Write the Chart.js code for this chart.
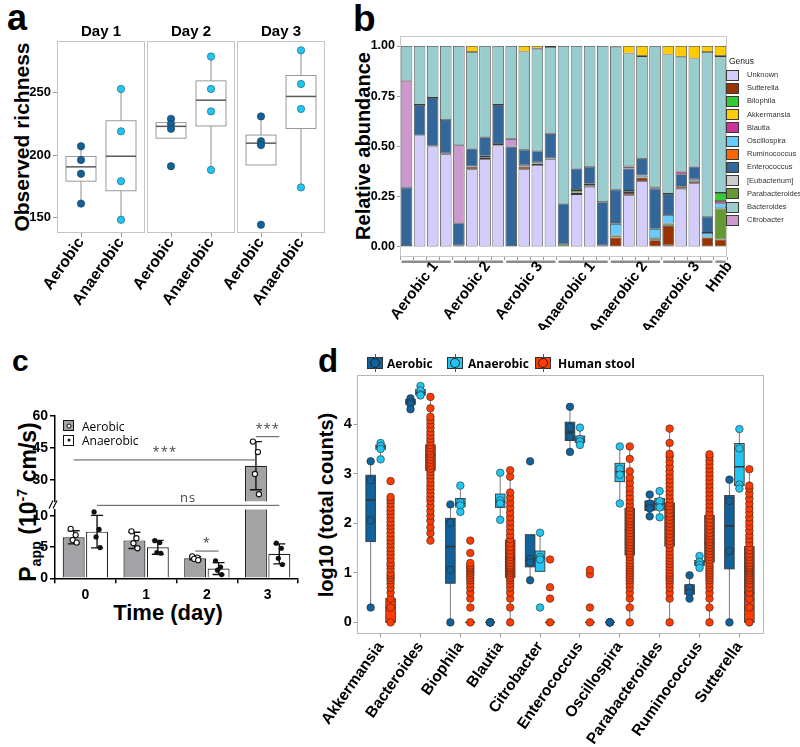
<!DOCTYPE html>
<html>
<head>
<meta charset="utf-8">
<title>Microbiome figure</title>
<script src="https://cdn.jsdelivr.net/npm/chart.js@4.4.1/dist/chart.umd.min.js"></script>
<style>
    body { margin: 0; width: 800px; height: 747px; position: relative; overflow: hidden; background: #fff;
           font-family: "Liberation Sans", Arial, sans-serif; color: #000; }
    canvas { position: absolute; }
    .panel-tag { position: absolute; font-weight: bold; line-height: 1; }
    .axis-title { position: absolute; transform: translate(-50%, -50%) rotate(-90deg); white-space: nowrap; font-weight: bold; line-height: 1; }
    .axis-title sub, .axis-title sup { font-size: 0.62em; line-height: 0; }
    .legend-text { position: absolute; white-space: nowrap; line-height: 1; transform: translateY(-50%); }
    .genus-key { position: absolute; width: 13px; height: 11px; border: 1px solid #3a3a3a; box-sizing: border-box; }
    .c-key { position: absolute; width: 11px; height: 11px; border: 1.3px solid #111; box-sizing: border-box; }
    .c-key i { position: absolute; left: 50%; top: 50%; border-radius: 50%; transform: translate(-50%, -50%); box-sizing: border-box; }
    .d-key { position: absolute; width: 16px; height: 12px; border: 1px solid #333; box-sizing: border-box; }
    .d-key::before { content: ""; position: absolute; left: 6.5px; top: -4px; width: 1px; height: 18px; background: #555; }
    .d-key i { position: absolute; left: 2px; top: 0; width: 10px; height: 10px; border-radius: 50%; border: 1px solid #222; box-sizing: border-box; }
</style>
</head>
<body>
<div class="panel-tag" style="left:7px;top:0;font-size:36px">a</div>
<div class="panel-tag" style="left:353px;top:0;font-size:37px">b</div>
<div class="panel-tag" style="left:12px;top:346px;font-size:30px">c</div>
<div class="panel-tag" style="left:318px;top:344px;font-size:33px">d</div>

<div class="axis-title" style="left:21px;top:137px;font-size:21px">Observed richness</div>
<div class="axis-title" style="left:363px;top:146px;font-size:20px">Relative abundance</div>
<div class="axis-title" style="left:28px;top:502px;font-size:23px">P<sub>app</sub> (10<sup>-7</sup> cm/s)</div>
<div class="axis-title" style="left:326px;top:505px;font-size:20px">log10 (total counts)</div>
<div style="position:absolute;left:168px;top:613px;transform:translate(-50%,-50%);font:bold 22px 'Liberation Sans Narrow','Liberation Sans',sans-serif;white-space:nowrap;line-height:1">Time (day)</div>

<canvas id="chart-a" width="330" height="330" style="left:0;top:0"></canvas>
<canvas id="chart-b" width="470" height="330" style="left:330px;top:0"></canvas>
<canvas id="chart-c-top" width="310" height="102" style="left:0;top:400px"></canvas>
<canvas id="chart-c-bottom" width="310" height="165" style="left:0;top:470px"></canvas>
<canvas id="chart-d" width="500" height="377" style="left:300px;top:370px"></canvas>

<script>
// ---------- panel a: observed richness ----------
const daysA = ["Day 1", "Day 2", "Day 3"];
const conditionsA = ["Aerobic", "Anaerobic"];
const richnessAerobic = [[207, 196, 185, 161], [229, 225, 221, 191], [231, 211, 208, 144]];
const richnessAnaerobic = [[253, 219, 179, 148], [279, 253, 235, 188], [284, 257, 237, 174]];
// lower whisker, q1, median, q3, upper whisker
const richnessBoxAerobic = [[161, 179, 190.5, 198.8, 207], [213.5, 213.5, 223, 226, 229], [192, 192, 209.5, 216, 231]];
const richnessBoxAnaerobic = [[148, 171.3, 199, 227.5, 253], [188, 223.3, 244, 259.5, 279], [174, 221.3, 247, 263.8, 284]];
const richnessTicks = [150, 200, 250];

// ---------- panel b: relative abundance ----------
const sampleGroups = ["Aerobic 1", "Aerobic 2", "Aerobic 3", "Anaerobic 1", "Anaerobic 2", "Anaerobic 3", "Hmb"];
const groupSizes = [4, 4, 4, 4, 4, 4, 1];
const abUnknown = [0.005, 0.555, 0.5, 0.462, 0, 0.387, 0.438, 0.505, 0.005, 0.387, 0.408, 0.437, 0, 0.263, 0.3, 0, 0, 0.257, 0.328, 0, 0.008, 0.29, 0.317, 0, 0];
const abSutterella = [0, 0, 0.004, 0.004, 0, 0.013, 0.008, 0, 0, 0.013, 0.008, 0.003, 0, 0.008, 0.007, 0, 0.047, 0.012, 0.018, 0.033, 0.097, 0.01, 0.01, 0.047, 0.037];
const abParabacteroides = [0, 0, 0, 0, 0.008, 0, 0.008, 0.007, 0, 0.007, 0.005, 0, 0.013, 0.012, 0.007, 0.008, 0.01, 0, 0, 0.01, 0.012, 0, 0, 0, 0.155];
const abOscillospira = [0, 0, 0, 0, 0, 0, 0, 0, 0, 0, 0, 0, 0, 0, 0, 0, 0.058, 0.01, 0.01, 0.047, 0.042, 0, 0.01, 0.023, 0.025];
const abRuminococcus = [0, 0, 0, 0, 0, 0, 0, 0, 0, 0, 0, 0, 0, 0, 0, 0, 0, 0, 0, 0, 0, 0, 0, 0, 0];
const abEnterococcus = [0.29, 0.152, 0.238, 0.166, 0.11, 0.09, 0.092, 0.195, 0.495, 0.077, 0.055, 0.123, 0.203, 0.107, 0.085, 0.215, 0.17, 0.112, 0.082, 0.2, 0.105, 0.062, 0.063, 0.08, 0];
const abBlautia = [0, 0, 0, 0, 0, 0, 0, 0, 0, 0, 0, 0, 0, 0, 0, 0, 0, 0.01, 0, 0.007, 0, 0.013, 0, 0, 0.012];
const abBilophila = [0, 0, 0, 0, 0, 0, 0, 0, 0, 0, 0, 0, 0, 0, 0, 0, 0, 0, 0, 0, 0, 0, 0, 0, 0.04];
const abCitrobacter = [0.533, 0, 0, 0, 0.388, 0, 0, 0, 0.038, 0, 0, 0, 0, 0, 0, 0, 0, 0, 0, 0, 0, 0, 0, 0, 0];
const abEubacterium = [0, 0, 0, 0, 0, 0, 0, 0, 0, 0, 0, 0, 0, 0, 0, 0, 0, 0, 0, 0, 0, 0, 0, 0, 0];
const abBacteroides = [0.172, 0.293, 0.258, 0.368, 0.494, 0.48, 0.454, 0.293, 0.462, 0.489, 0.511, 0.432, 0.784, 0.61, 0.601, 0.777, 0.712, 0.562, 0.512, 0.703, 0.694, 0.572, 0.538, 0.82, 0.681];
const abAkkermansia = [0, 0, 0, 0, 0, 0.03, 0, 0, 0, 0.027, 0.013, 0.005, 0, 0, 0, 0, 0.003, 0.037, 0.05, 0, 0.042, 0.053, 0.062, 0.03, 0.05];
const abundanceTicks = [0, 0.25, 0.5, 0.75, 1];
const legendOrderB = ["Unknown", "Sutterella", "Bilophila", "Akkermansia", "Blautia", "Oscillospira",
    "Ruminococcus", "Enterococcus", "[Eubacterium]", "Parabacteroides", "Bacteroides", "Citrobacter"];

// ---------- panel c: permeability ----------
const daysC = ["0", "1", "2", "3"];
const conditionsC = ["Aerobic", "Anaerobic"];
const pappAerobicMean = [6.55, 6.05, 3.2, 36.7];
const pappAerobicSd = [1.05, 1.3, 0.25, 11.3];
const pappAnaerobicMean = [7.45, 4.95, 1.55, 3.9];
const pappAnaerobicSd = [2.6, 1.1, 0.95, 1.6];
const pappAerobicPts = [[7.9, 6.9, 6.1, 5.7], [7.5, 6.4, 5.6, 4.8], [3.5, 3.3, 3.1, 2.9], [48.0, 43.1, 32.8, 23.3]];
const pappAnaerobicPts = [[10.6, 7.8, 6.6, 4.9], [6.0, 5.7, 4.1, 4.0], [2.8, 1.8, 1.3, 0.6], [5.6, 4.8, 3.2, 2.2]];
const pappTicksLow = [0, 5, 10];
const pappTicksHigh = [30, 45, 60];
// [day, condition] at each end of a bracket
const sigStart = [[0, 0], [3, 0], [0, 1], [2, 0]];
const sigEnd = [[3, 0], [3, 1], [3, 1], [2, 1]];
const sigHeight = [39.4, 50.3, 11.65, 4.35];
const sigLabel = ["***", "***", "ns", "*"];

// ---------- panel d: counts per genus ----------
const genera = ["Akkermansia", "Bacteroides", "Biophila", "Blautia", "Citrobacter", "Enterococcus",
    "Oscillospira", "Parabacteroides", "Ruminococcus", "Sutterella"];
const sourcesD = ["Aerobic", "Anaerobic", "Human stool"];
const countsAerobic = [[3.25, 2.87, 2.06, 0.30], [4.52, 4.44, 4.40, 4.30], [2.38, 2.01, 1.06, 0], [0, 0, 0, 0],
    [3.25, 1.28, 1.21, 0.85], [4.35, 3.94, 3.74, 3.44], [0, 0, 0, 0], [2.58, 2.40, 2.30, 2.14],
    [0.95, 0.70, 0.60, 0.48], [2.88, 2.45, 1.44, 0]];
const countsAnaerobic = [[3.62, 3.56, 3.50, 3.29], [4.77, 4.68, 4.60, 4.58], [2.76, 2.42, 2.36, 2.23], [3.02, 2.46, 2.40, 2.07],
    [1.81, 1.32, 1.27, 0.30], [3.93, 3.70, 3.65, 3.58], [3.55, 3.10, 2.98, 2.40], [2.65, 2.45, 2.32, 2.12],
    [1.34, 1.22, 1.16, 1.10], [3.90, 3.51, 2.78, 2.70]];
const countsStool = [
    [0, 0.30, 0.48, 0.60, 0.70, 0.78, 0.85, 0.90, 0.95, 1.00, 1.08, 1.15, 1.20, 1.28, 1.36, 1.43, 1.50, 1.58, 1.65, 1.72, 1.80, 1.88, 1.95, 2.02, 2.10, 2.18, 2.25, 2.32, 2.40, 2.47, 2.53, 2.85],
    [1.65, 1.80, 1.92, 2.05, 2.15, 2.25, 2.35, 2.45, 2.52, 2.60, 2.68, 2.75, 2.82, 2.90, 2.97, 3.04, 3.10, 3.16, 3.22, 3.28, 3.34, 3.40, 3.46, 3.52, 3.58, 3.64, 3.70, 3.77, 3.84, 3.92, 4.00, 4.08, 4.15, 4.32, 4.55],
    [0, 0.30, 0.48, 0.60, 0.70, 0.78, 0.85, 0.90, 0.95, 1.00, 1.04, 1.08, 1.11, 1.15, 1.20, 1.40, 1.65],
    [0, 0.30, 0.48, 0.60, 0.70, 0.78, 0.85, 0.90, 0.95, 1.00, 1.04, 1.08, 1.11, 1.15, 1.20, 1.26, 1.32, 1.38, 1.45, 1.52, 1.60, 1.68, 1.76, 1.85, 1.94, 2.03, 2.12, 2.22, 2.32, 2.42, 2.52, 2.62, 2.94, 3.07],
    [0, 0.48, 0.71, 1.27],
    [0, 0.30, 0.97, 1.06],
    [0, 0.30, 0.48, 0.60, 0.70, 0.78, 0.85, 0.90, 0.95, 1.00, 1.05, 1.10, 1.15, 1.20, 1.26, 1.32, 1.38, 1.44, 1.50, 1.56, 1.62, 1.68, 1.74, 1.80, 1.86, 1.92, 1.98, 2.04, 2.10, 2.17, 2.24, 2.31, 2.38, 2.46, 2.54, 2.63, 2.72, 2.82, 2.92, 3.05, 3.30, 3.55],
    [0, 0.48, 0.60, 0.70, 0.78, 0.85, 0.90, 0.95, 1.00, 1.06, 1.12, 1.18, 1.24, 1.30, 1.36, 1.43, 1.50, 1.57, 1.64, 1.71, 1.78, 1.85, 1.92, 1.99, 2.06, 2.13, 2.20, 2.27, 2.34, 2.41, 2.48, 2.56, 2.64, 2.72, 2.80, 2.88, 2.96, 3.05, 3.14, 3.24, 3.34, 3.40, 3.62, 3.91],
    [0, 0.30, 0.48, 0.60, 0.70, 0.78, 0.85, 0.90, 0.95, 1.00, 1.05, 1.10, 1.15, 1.20, 1.26, 1.32, 1.38, 1.44, 1.50, 1.56, 1.62, 1.68, 1.74, 1.80, 1.87, 1.94, 2.01, 2.08, 2.15, 2.22, 2.30, 2.38, 2.46, 2.54, 2.62, 2.70, 2.78, 2.86, 2.94, 3.02, 3.10, 3.18, 3.26, 3.34, 3.39],
    [0, 0.30, 0.48, 0.60, 0.70, 0.78, 0.85, 0.90, 0.95, 1.00, 1.04, 1.08, 1.11, 1.15, 1.20, 1.26, 1.32, 1.38, 1.45, 1.52, 1.60, 1.68, 1.76, 1.85, 1.94, 2.03, 2.12, 2.21, 2.30, 2.40, 2.50, 2.60, 2.70, 2.76, 3.09],
];
const boxAerobicD = [[0.30, 1.63, 2.47, 2.97, 3.25], [4.30, 4.40, 4.45, 4.50, 4.52], [0, 0.79, 1.53, 2.10, 2.38], [0, 0, 0, 0, 0],
    [0.85, 1.12, 1.25, 1.77, 1.77], [3.44, 3.67, 3.84, 4.04, 4.35], [0, 0, 0, 0, 0], [2.14, 2.26, 2.35, 2.45, 2.58],
    [0.48, 0.57, 0.65, 0.76, 0.95], [0, 1.08, 1.95, 2.56, 2.88]];
const boxAnaerobicD = [[3.29, 3.49, 3.54, 3.58, 3.62], [4.58, 4.59, 4.64, 4.70, 4.77], [2.23, 2.33, 2.40, 2.50, 2.76], [2.07, 2.32, 2.43, 2.59, 3.02],
    [1.03, 1.03, 1.30, 1.44, 1.81], [3.58, 3.63, 3.68, 3.76, 3.93], [2.40, 2.84, 3.04, 3.21, 3.55], [2.12, 2.27, 2.39, 2.50, 2.65],
    [1.10, 1.15, 1.19, 1.25, 1.34], [2.70, 2.76, 3.14, 3.61, 3.90]];
const boxStoolD = [[0, 0, 0.30, 0.48, 1.20], [1.65, 3.07, 3.37, 3.58, 4.56], [0, 0, 0, 0, 0], [0, 0.91, 1.29, 1.66, 3.07],
    [0, 0, 0, 0, 0], [0, 0, 0, 0, 0], [0, 1.36, 1.86, 2.30, 3.55], [0, 1.54, 2.13, 2.41, 3.91],
    [0, 1.22, 1.59, 2.16, 3.39], [0, 0, 0.60, 1.53, 3.09]];
const countTicks = [0, 1, 2, 3, 4];

// ---------- styling ----------
const aerobicColor = "#11619a";
const anaerobicColor = "#22c5f1";
const stoolColor = "#ff3b00";
const genusColors = {
    "Unknown": "#d2cdfb", "Sutterella": "#993300", "Bilophila": "#33cc33", "Akkermansia": "#ffcc00",
    "Blautia": "#cc3399", "Oscillospira": "#66ccff", "Ruminococcus": "#ff6600", "Enterococcus": "#336699",
    "[Eubacterium]": "#cccccc", "Parabacteroides": "#669933", "Bacteroides": "#99cccc", "Citrobacter": "#cc99cc",
};
const jitterC = [-3, 2, -1, 3];

Chart.defaults.font.family = '"Liberation Sans", Arial, sans-serif';
Chart.defaults.font.weight = "bold";
Chart.defaults.color = "#000";
Chart.defaults.animation = false;
Chart.defaults.plugins.legend.display = false;
Chart.defaults.plugins.tooltip.enabled = false;

const fixWidth = (width) => (scale) => {
    scale.width = width;
    scale.paddingTop = 0;
    scale.paddingBottom = 0;
};
const fixHeight = (height) => (scale) => {
    scale.height = height;
    scale.paddingLeft = 0;
    scale.paddingRight = 0;
};
const setTicks = (values) => (scale) => {
    scale.ticks = values.map((value) => ({ value }));
};

function drawBox(ctx, xs, ys, x, half, stats, style) {
    const left = xs.getPixelForValue(x - half);
    const right = xs.getPixelForValue(x + half);
    const mid = xs.getPixelForValue(x);
    const [lo, q1, med, q3, hi] = stats.map((v) => ys.getPixelForValue(v));
    ctx.strokeStyle = style.whisker;
    ctx.lineWidth = 1;
    ctx.beginPath();
    ctx.moveTo(mid, lo);
    ctx.lineTo(mid, q1);
    ctx.moveTo(mid, q3);
    ctx.lineTo(mid, hi);
    ctx.stroke();
    ctx.fillStyle = style.fill;
    ctx.fillRect(left, q3, right - left, q1 - q3);
    ctx.strokeStyle = style.border;
    ctx.lineWidth = 0.9;
    ctx.strokeRect(left, q3, right - left, q1 - q3);
    ctx.strokeStyle = style.median;
    ctx.lineWidth = 1.5;
    ctx.beginPath();
    ctx.moveTo(left, med);
    ctx.lineTo(right, med);
    ctx.stroke();
}

function frame(ctx, x0, y0, x1, y1, color) {
    ctx.strokeStyle = color;
    ctx.lineWidth = 1;
    ctx.strokeRect(Math.round(x0) + 0.5, Math.round(y0) + 0.5, Math.round(x1 - x0) - 1, Math.round(y1 - y0) - 1);
}

// ---------- panel a ----------
const facetStep = 2.25;
const facetSpan = 2.2;
const tickPosA = [];
const tickTextA = [];
daysA.forEach((day, f) => conditionsA.forEach((cond, g) => {
    tickPosA.push(f * facetStep + 0.6 + g);
    tickTextA.push(cond);
}));

const richnessPoints = (series, g) => series.flatMap((vals, f) =>
    vals.map((y) => ({ x: f * facetStep + 0.6 + g, y })));

new Chart(document.getElementById("chart-a"), {
    type: "scatter",
    data: {
        datasets: [
            { data: richnessPoints(richnessAerobic, 0), backgroundColor: aerobicColor, borderColor: "#1d3a50", borderWidth: 0.6, pointRadius: 3.7 },
            { data: richnessPoints(richnessAnaerobic, 1), backgroundColor: anaerobicColor, borderColor: "#1d5a70", borderWidth: 0.6, pointRadius: 3.7 },
        ],
    },
    options: {
        responsive: false,
        layout: { padding: { top: 41, right: 5, left: 0, bottom: 0 } },
        scales: {
            x: {
                type: "linear", min: 0, max: 2 * facetStep + facetSpan,
                afterBuildTicks: setTicks(tickPosA),
                afterFit: fixHeight(97),
                ticks: { callback: (v, i) => tickTextA[i], minRotation: 55, maxRotation: 55, autoSkip: false, font: { size: 16 }, padding: -3 },
                grid: { drawOnChartArea: false, tickLength: 4, color: "#9a9a9a" },
                border: { display: false },
            },
            y: {
                min: 137.4, max: 291.5,
                afterBuildTicks: setTicks(richnessTicks),
                afterFit: fixWidth(57),
                ticks: { font: { size: 13 }, padding: 2 },
                grid: { drawOnChartArea: false, tickLength: 4, color: "#9a9a9a" },
                border: { display: false },
            },
        },
    },
    plugins: [{
        id: "facetBoxes",
        beforeDatasetsDraw(chart) {
            const { ctx, chartArea } = chart;
            const xs = chart.scales.x;
            const ys = chart.scales.y;
            ctx.save();
            daysA.forEach((day, f) => {
                const x0 = xs.getPixelForValue(f * facetStep);
                const x1 = xs.getPixelForValue(f * facetStep + facetSpan);
                frame(ctx, x0, chartArea.top, x1, chartArea.bottom, "#c4c4c4");
                ctx.fillStyle = "#000";
                ctx.font = 'bold 15px "Liberation Sans", Arial, sans-serif';
                ctx.textAlign = "center";
                ctx.textBaseline = "middle";
                ctx.fillText(day, (x0 + x1) / 2, chartArea.top - 9);
                const style = { fill: "#fff", border: "#8f8f8f", whisker: "#8f8f8f", median: "#5a5a5a" };
                drawBox(ctx, xs, ys, f * facetStep + 0.6, 0.375, richnessBoxAerobic[f], style);
                drawBox(ctx, xs, ys, f * facetStep + 1.6, 0.375, richnessBoxAnaerobic[f], style);
            });
            ctx.restore();
        },
    }],
});

// ---------- panel b ----------
const sampleLabels = sampleGroups.flatMap((g, gi) =>
    Array.from({ length: groupSizes[gi] }, (_, k) => g + " #" + (k + 1)));
const stackB = [
    ["Unknown", abUnknown], ["Sutterella", abSutterella], ["Parabacteroides", abParabacteroides],
    ["Oscillospira", abOscillospira], ["Ruminococcus", abRuminococcus], ["Enterococcus", abEnterococcus],
    ["Blautia", abBlautia], ["Bilophila", abBilophila], ["Citrobacter", abCitrobacter],
    ["[Eubacterium]", abEubacterium], ["Bacteroides", abBacteroides], ["Akkermansia", abAkkermansia],
];

new Chart(document.getElementById("chart-b"), {
    type: "bar",
    data: {
        labels: sampleLabels,
        datasets: stackB.map(([name, values]) => ({
            label: name,
            data: values,
            backgroundColor: genusColors[name],
            borderColor: "#3a3a3a",
            borderWidth: 0.8,
            borderSkipped: false,
            barPercentage: 0.88,
            categoryPercentage: 1,
        })),
    },
    options: {
        responsive: false,
        layout: { padding: { top: 36, right: 73, left: 0, bottom: 0 } },
        scales: {
            x: {
                stacked: true,
                afterFit: fixHeight(73),
                ticks: { display: false },
                grid: { drawOnChartArea: false, tickLength: 3, color: "#999" },
                border: { display: false },
            },
            y: {
                stacked: true, min: -0.05, max: 1.05,
                afterBuildTicks: setTicks(abundanceTicks),
                afterFit: fixWidth(70),
                ticks: { callback: (v) => v.toFixed(2), font: { size: 12.5 }, padding: 2 },
                grid: { drawOnChartArea: false, tickLength: 3, color: "#999" },
                border: { display: false },
            },
        },
    },
    plugins: [{
        id: "groupLabels",
        afterDraw(chart) {
            const { ctx, chartArea } = chart;
            const xs = chart.scales.x;
            ctx.save();
            frame(ctx, chartArea.left, chartArea.top, chartArea.right, chartArea.bottom, "#c8c8c8");
            let start = 0;
            sampleGroups.forEach((name, gi) => {
                const first = xs.getPixelForValue(start);
                const last = xs.getPixelForValue(start + groupSizes[gi] - 1);
                ctx.strokeStyle = "#8c8c8c";
                ctx.lineWidth = 2.4;
                ctx.beginPath();
                ctx.moveTo(first - 5, chartArea.bottom + 4.7);
                ctx.lineTo(last + 5, chartArea.bottom + 4.7);
                ctx.stroke();
                ctx.save();
                ctx.translate((first + last) / 2 + 3, chartArea.bottom + 2);
                ctx.rotate(-53 * Math.PI / 180);
                ctx.fillStyle = "#000";
                ctx.font = 'bold 15px "Liberation Sans", Arial, sans-serif';
                ctx.textAlign = "right";
                ctx.textBaseline = "top";
                ctx.fillText(name, 0, 0);
                ctx.restore();
                start += groupSizes[gi];
            });
            ctx.restore();
        },
    }],
});

// ---------- panel c (broken axis: two stacked charts) ----------
function drawPappMarks(chart) {
    const { ctx, chartArea } = chart;
    const ys = chart.scales.y;
    const groups = [
        { mean: pappAerobicMean, sd: pappAerobicSd, pts: pappAerobicPts, open: true },
        { mean: pappAnaerobicMean, sd: pappAnaerobicSd, pts: pappAnaerobicPts, open: false },
    ];
    ctx.save();
    ctx.beginPath();
    ctx.rect(chartArea.left - 10, chartArea.top - 3, chartArea.width + 20, chartArea.height + 6);
    ctx.clip();
    groups.forEach((group, d) => {
        chart.getDatasetMeta(d).data.forEach((bar, i) => {
            const x = bar.x;
            const top = ys.getPixelForValue(group.mean[i] + group.sd[i]);
            const bottom = ys.getPixelForValue(group.mean[i] - group.sd[i]);
            ctx.strokeStyle = "#111";
            ctx.lineWidth = 1.4;
            ctx.beginPath();
            ctx.moveTo(x, top);
            ctx.lineTo(x, bottom);
            ctx.moveTo(x - 6, top);
            ctx.lineTo(x + 6, top);
            ctx.moveTo(x - 6, bottom);
            ctx.lineTo(x + 6, bottom);
            ctx.stroke();
            group.pts[i].forEach((v, k) => {
                ctx.beginPath();
                ctx.arc(x + jitterC[k], ys.getPixelForValue(v), 2.6, 0, Math.PI * 2);
                if (group.open) {
                    ctx.fillStyle = "#fff";
                    ctx.fill();
                    ctx.lineWidth = 1.1;
                    ctx.stroke();
                } else {
                    ctx.fillStyle = "#111";
                    ctx.fill();
                }
            });
        });
    });
    ctx.restore();
}

function drawSignificance(chart, keep) {
    const { ctx } = chart;
    const ys = chart.scales.y;
    ctx.save();
    ctx.strokeStyle = "#555";
    ctx.lineWidth = 1;
    ctx.fillStyle = "#444";
    ctx.font = '13px "Open Sans", sans-serif';
    ctx.letterSpacing = "1px";
    ctx.textAlign = "center";
    ctx.textBaseline = "bottom";
    sigHeight.forEach((h, k) => {
        if (!keep(h)) {
            return;
        }
        const x0 = chart.getDatasetMeta(sigStart[k][1]).data[sigStart[k][0]].x;
        const x1 = chart.getDatasetMeta(sigEnd[k][1]).data[sigEnd[k][0]].x;
        const y = ys.getPixelForValue(h);
        ctx.beginPath();
        ctx.moveTo(x0, y);
        ctx.lineTo(x1, y);
        ctx.stroke();
        ctx.fillText(sigLabel[k], (x0 + x1) / 2, y - 1);
    });
    ctx.restore();
}

const pappDatasets = () => [
    { label: conditionsC[0], data: pappAerobicMean, backgroundColor: "#a3a3a6", borderColor: "#222", borderWidth: 1.2 },
    { label: conditionsC[1], data: pappAnaerobicMean, backgroundColor: "#fff", borderColor: "#222", borderWidth: 1.2 },
];
const upperMin = 20;

const axisC = {
    grid: { drawOnChartArea: false, tickLength: 5, color: "#000", lineWidth: 1.5 },
    border: { display: true, color: "#000", width: 1.5 },
};

new Chart(document.getElementById("chart-c-top"), {
    type: "bar",
    data: { labels: daysC, datasets: pappDatasets() },
    options: {
        responsive: false,
        datasets: { bar: { categoryPercentage: 0.77, barPercentage: 0.94 } },
        layout: { padding: { top: 16, right: 12, left: 0, bottom: 0.7 } },
        scales: {
            x: { display: false },
            y: {
                min: upperMin, max: 60,
                afterBuildTicks: setTicks(pappTicksHigh),
                afterFit: fixWidth(55),
                ticks: { font: { size: 14 }, padding: 2 },
                ...axisC,
            },
        },
    },
    plugins: [{
        id: "pappTop",
        afterDatasetsDraw(chart) {
            drawPappMarks(chart);
            drawSignificance(chart, (h) => h >= upperMin);
        },
    }],
});

new Chart(document.getElementById("chart-c-bottom"), {
    type: "bar",
    data: { labels: daysC, datasets: pappDatasets() },
    options: {
        responsive: false,
        datasets: { bar: { categoryPercentage: 0.77, barPercentage: 0.94 } },
        layout: { padding: { top: 39.4, right: 12, left: 0, bottom: 0 } },
        scales: {
            x: {
                afterFit: fixHeight(56.7),
                ticks: { font: { size: 14 }, padding: 3 },
                ...axisC,
            },
            y: {
                min: 0, max: 11,
                afterBuildTicks: setTicks(pappTicksLow),
                afterFit: fixWidth(55),
                ticks: { font: { size: 14 }, padding: 2 },
                ...axisC,
            },
        },
    },
    plugins: [{
        id: "pappBottom",
        afterDatasetsDraw(chart) {
            drawPappMarks(chart);
            drawSignificance(chart, (h) => h < upperMin);
        },
        afterDraw(chart) {
            const { ctx, chartArea } = chart;
            const x = chartArea.left;
            const y = chartArea.top - 5;
            ctx.save();
            ctx.strokeStyle = "#000";
            ctx.lineWidth = 1.2;
            ctx.beginPath();
            ctx.moveTo(x - 6, y + 4);
            ctx.lineTo(x - 2, y - 4);
            ctx.moveTo(x - 2, y + 4);
            ctx.lineTo(x + 2, y - 4);
            ctx.stroke();
            ctx.restore();
        },
    }],
});

// ---------- panel d ----------
const dodgeD = [-0.25, 0, 0.25];
const fillsD = [aerobicColor, anaerobicColor, stoolColor];
const pointsD = [countsAerobic, countsAnaerobic, countsStool];
const boxesD = [boxAerobicD, boxAnaerobicD, boxStoolD];

new Chart(document.getElementById("chart-d"), {
    type: "scatter",
    data: {
        datasets: pointsD.map((series, g) => ({
            label: sourcesD[g],
            data: series.flatMap((vals, i) => vals.map((y) => ({ x: i + dodgeD[g], y }))),
            backgroundColor: fillsD[g],
            borderColor: "#2a2a2a",
            borderWidth: 0.6,
            pointRadius: 3.8,
        })),
    },
    options: {
        responsive: false,
        layout: { padding: { top: 4.3, right: 36.7, left: 0, bottom: 0 } },
        scales: {
            x: {
                type: "linear", min: -0.6, max: 9.6,
                afterBuildTicks: setTicks(genera.map((g, i) => i)),
                afterFit: fixHeight(113.7),
                ticks: { callback: (v, i) => genera[i], minRotation: 55, maxRotation: 55, autoSkip: false, font: { size: 15.5 }, padding: 1 },
                grid: { drawOnChartArea: false, tickLength: 4, color: "#999" },
                border: { display: false },
            },
            y: {
                min: -0.22, max: 5.0,
                afterBuildTicks: setTicks(countTicks),
                afterFit: fixWidth(56.7),
                ticks: { font: { size: 14.5 }, padding: 2 },
                grid: { drawOnChartArea: false, tickLength: 3, color: "#999" },
                border: { display: false },
            },
        },
    },
    plugins: [{
        id: "countBoxes",
        beforeDatasetsDraw(chart) {
            const { ctx, chartArea } = chart;
            const xs = chart.scales.x;
            const ys = chart.scales.y;
            ctx.save();
            frame(ctx, chartArea.left, chartArea.top, chartArea.right, chartArea.bottom, "#b8b8b8");
            genera.forEach((name, i) => {
                boxesD.forEach((boxes, g) => {
                    drawBox(ctx, xs, ys, i + dodgeD[g], 0.12, boxes[i],
                        { fill: fillsD[g], border: "#3a3a3a", whisker: "#777", median: "#333" });
                });
            });
            ctx.restore();
        },
    }],
});

// ---------- html legends ----------
function addEl(cls, style, text) {
    const el = document.createElement("div");
    el.className = cls;
    Object.assign(el.style, style);
    if (text) {
        el.textContent = text;
    }
    document.body.appendChild(el);
    return el;
}

addEl("legend-text", { left: "729px", top: "61px", fontSize: "8.5px", color: "#222" }, "Genus");
legendOrderB.forEach((name, i) => {
    const y = 75 + i * 13.2;
    addEl("genus-key", { left: "726px", top: (y - 5.5) + "px", background: genusColors[name] });
    addEl("legend-text", { left: "747px", top: y + "px", fontSize: "7.5px", color: "#333" }, name);
});

conditionsC.forEach((name, i) => {
    const y = 425.7 + i * 14.5;
    const key = addEl("c-key", { left: "63px", top: (y - 5.5) + "px", background: i === 0 ? "#a3a3a6" : "#fff" });
    const dot = document.createElement("i");
    Object.assign(dot.style, i === 0
        ? { width: "5px", height: "5px", border: "1px solid #111", background: "#fff" }
        : { width: "3px", height: "3px", background: "#111" });
    key.appendChild(dot);
    addEl("legend-text", { left: "82px", top: y + "px", font: '12px "Open Sans", sans-serif' }, name);
});

const keyLeftD = [367, 447, 535];
const textLeftD = [387, 468, 558];
sourcesD.forEach((name, g) => {
    const key = addEl("d-key", { left: keyLeftD[g] + "px", top: "357px", background: fillsD[g] });
    const dot = document.createElement("i");
    dot.style.background = fillsD[g];
    key.appendChild(dot);
    addEl("legend-text", { left: textLeftD[g] + "px", top: "363px", font: 'bold 12px "Open Sans", sans-serif' }, name);
});
</script>
</body>
</html>
